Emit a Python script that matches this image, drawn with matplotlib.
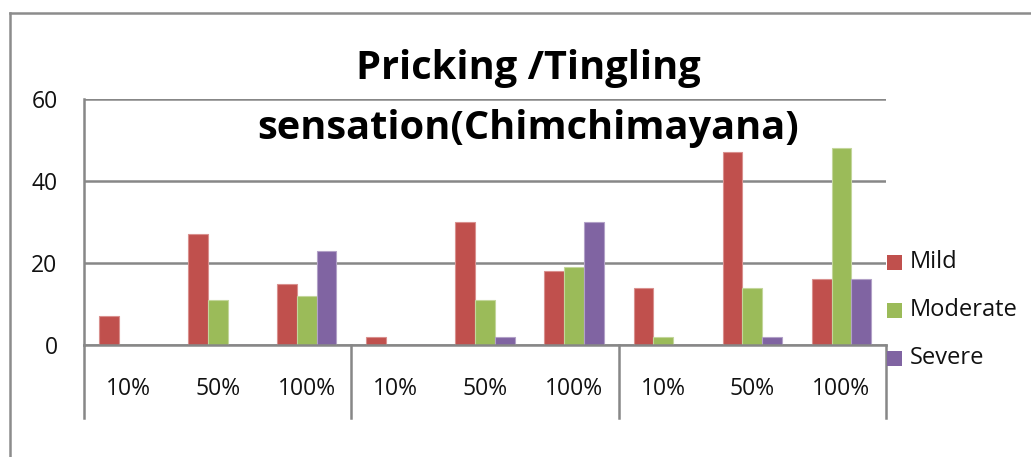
import matplotlib
matplotlib.use("Agg")
import matplotlib.pyplot as plt
from matplotlib.lines import Line2D
from matplotlib.patches import Rectangle
from matplotlib.transforms import blended_transform_factory
import numpy as np

plt.rcParams['font.family'] = ['Open Sans', 'DejaVu Sans']

categories = ["10%", "50%", "100%", "10%", "50%", "100%", "10%", "50%", "100%"]
series_names = ["Mild", "Moderate", "Severe"]
mild = [7, 27, 15, 2, 30, 18, 14, 47, 16]
moderate = [0, 11, 12, 0, 11, 19, 2, 14, 48]
severe = [0, 0, 23, 0, 2, 30, 0, 2, 16]
y_ticks = [0, 20, 40, 60]
title_lines = ["Pricking /Tingling", "sensation(Chimchimayana)"]

colors = ["#C0504D", "#9BBB59", "#8064A2"]
edge_colors = ["#D9908E", "#C3D69B", "#B2A1C7"]
grid_color = "#878787"

W, H = 1031, 457
fig = plt.figure(figsize=(W / 100, H / 100), dpi=100)
fig.patch.set_facecolor("white")

left, right = 84 / W, 886 / W
bottom, top = (H - 345) / H, (H - 99) / H
ax = fig.add_axes([left, bottom, right - left, top - bottom])

x = np.arange(len(categories))
bw = 1 / 4.5
for i, (vals, c, ec, name) in enumerate(zip([mild, moderate, severe], colors, edge_colors, series_names)):
    ax.bar(x + (i - 1) * bw, vals, width=bw, color=c, edgecolor=ec,
           linewidth=0.8, label=name, zorder=3)

ax.set_xlim(-0.5, len(categories) - 0.5)
ax.set_ylim(0, 60)
ax.set_yticks(y_ticks)
ax.set_yticklabels([str(v) for v in y_ticks], fontsize=16.5, color="#111111")
ax.tick_params(axis="y", length=0, pad=19)
ax.tick_params(axis="x", length=0, bottom=False, labelbottom=False)
ax.yaxis.grid(True, color=grid_color, linewidth=1.8, zorder=0)
ax.set_axisbelow(True)
for s in ["top", "right"]:
    ax.spines[s].set_visible(False)
ax.spines["left"].set_color(grid_color)
ax.spines["left"].set_linewidth(1.8)
ax.spines["bottom"].set_color(grid_color)
ax.spines["bottom"].set_linewidth(1.8)
ax.spines["bottom"].set_zorder(4)

# multi-level category axis: group dividers and labels below the baseline
trans = blended_transform_factory(ax.transData, ax.transAxes)
for b in [-0.5, 2.5, 5.5, 8.5]:
    ax.add_line(Line2D([b, b], [0, -73 / 246], transform=trans, color=grid_color,
                       linewidth=1.8, clip_on=False))
for xi, lab in zip(x, categories):
    ax.text(xi, -44 / 246, lab, transform=trans, ha="center", va="center",
            fontsize=16.5, color="#111111")

# title
fig.text(528 / W, 1 - 68 / H, title_lines[0], ha="center", va="center",
         fontsize=28.6, fontweight="bold")
fig.text(528 / W, 1 - 128 / H, title_lines[1], ha="center", va="center",
         fontsize=28.6, fontweight="bold")

# legend: colour keys and series names stacked to the right of the plot
for i, (name, c) in enumerate(zip(series_names, colors)):
    yc = 262 + 48 * i
    fig.add_artist(Rectangle((887 / W, 1 - (yc + 7.5) / H), 15 / W, 15 / H,
                             transform=fig.transFigure, facecolor=c, edgecolor="none"))
    fig.text(910 / W, 1 - yc / H, name, ha="left", va="center", fontsize=17,
             color="#111111")

# chart-area border
fig.add_artist(Line2D([10 / W, 1.0], [1 - 13 / H, 1 - 13 / H], transform=fig.transFigure,
                      color="#8C8C8C", linewidth=1.8))
fig.add_artist(Line2D([10 / W, 10 / W], [0, 1 - 13 / H], transform=fig.transFigure,
                      color="#8C8C8C", linewidth=1.8))

fig.savefig("out.png", dpi=100, facecolor="white")
